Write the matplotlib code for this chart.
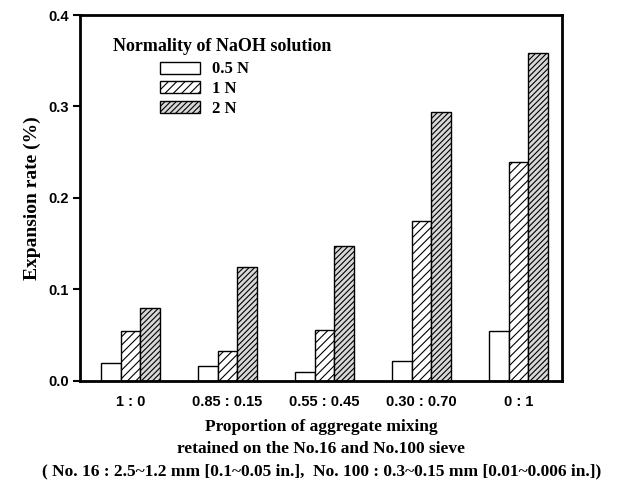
import numpy as np
import matplotlib.pyplot as plt

# data
groups = ['1 : 0', '0.85 : 0.15', '0.55 : 0.45', '0.30 : 0.70', '0 : 1']
n05 = [0.020, 0.016, 0.010, 0.022, 0.055]
n1 = [0.055, 0.033, 0.056, 0.175, 0.239]
n2 = [0.080, 0.125, 0.147, 0.294, 0.358]
series_labels = ['0.5 N', '1 N', '2 N']

plt.rcParams['hatch.linewidth'] = 0.8
serif = 'Liberation Serif'
sans = 'Liberation Sans'

fig = plt.figure(figsize=(6.31, 4.84), dpi=100)
ax = fig.add_axes([0.127, 0.213, 0.764, 0.756])

x = np.arange(len(groups))
w = 0.2
ax.bar(x - w, n05, w, color='white', edgecolor='black', linewidth=1.0, label=series_labels[0])
ax.bar(x, n1, w, color='white', edgecolor='black', linewidth=1.0, hatch='////', label=series_labels[1])
ax.bar(x + w, n2, w, color='#d8d8d8', edgecolor='black', linewidth=1.0, hatch='//////', label=series_labels[2])

ax.set_xlim(-0.52, 4.45)
ax.set_ylim(0, 0.4)
ax.set_yticks([0.0, 0.1, 0.2, 0.3, 0.4])
ax.set_yticklabels(['0.0', '0.1', '0.2', '0.3', '0.4'], fontfamily=sans, fontweight='bold', fontsize=10.5)
ax.set_xticks(x)
ax.set_xticklabels(groups, fontfamily=sans, fontweight='bold', fontsize=10.5)
ax.tick_params(axis='x', length=0, pad=10)
ax.tick_params(axis='y', direction='out', length=5, width=1.5, pad=3)
for s in ax.spines.values():
    s.set_linewidth(2)

ax.set_ylabel('Expansion rate (%)', fontfamily=serif, fontweight='bold', fontsize=14, labelpad=5)
ax.set_xlabel('Proportion of aggregate mixing\nretained on the No.16 and No.100 sieve\n'
              '( No. 16 : 2.5~1.2 mm [0.1~0.05 in.],  No. 100 : 0.3~0.15 mm [0.01~0.006 in.])',
              fontfamily=serif, fontweight='bold', fontsize=12.5, labelpad=7, linespacing=1.55)

# legend title drawn separately so the entries can sit indented under it
ax.text(0.068, 0.915, 'Normality of NaOH solution', transform=ax.transAxes,
        fontfamily=serif, fontweight='bold', fontsize=13, ha='left', va='center')
leg = ax.legend(loc='upper left', bbox_to_anchor=(0.166, 0.873),
                frameon=False, prop={'family': serif, 'weight': 'bold', 'size': 12},
                handlelength=2.4, handleheight=0.75, handletextpad=0.7,
                labelspacing=0.22, borderaxespad=0, borderpad=0)

fig.savefig('out.png', dpi=100)
